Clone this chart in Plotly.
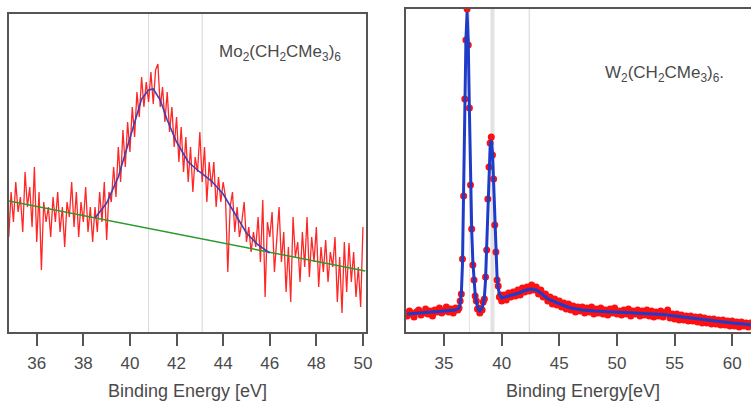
import numpy as np
import plotly.graph_objects as go

# ---------------- Left panel: Mo2(CH2CMe3)6 ----------------
mo_x_start, mo_x_step = 34.8, 0.1
mo_counts = [
    95, 140, 110, 150, 120, 135, 100, 160, 125, 145,
    105, 165, 90, 140, 62, 130, 110, 125, 95, 135,
    110, 140, 100, 125, 85, 130, 115, 150, 105, 140,
    95, 130, 110, 145, 100, 125, 90,
    125, 100, 140, 110, 150, 92, 140, 130, 165, 135,
    185, 150, 202, 165, 210, 180, 225, 195, 240, 215,
    255, 225, 250, 230, 260, 228, 262, 268, 225, 245,
    210, 240, 200, 225, 185, 215, 170, 205, 160, 195,
    150, 185, 140, 175, 160, 200, 150, 185, 130, 170,
    145, 170, 125, 155, 130, 150, 135, 60, 125, 140,
    100, 125, 95, 110, 130, 90, 105, 80, 100, 85,
    115, 70, 132, 35, 110, 95,
    120, 60, 95, 125, 70, 100, 40, 85, 30, 115,
    75, 90, 50, 100, 65, 115, 55, 95, 70, 105,
    45, 85, 60, 92, 50, 80, 65, 95, 30, 75,
    19, 90, 40, 89, 50, 80, 35, 65, 25, 105,
]
mo_x = np.round(mo_x_start + mo_x_step * np.arange(len(mo_counts)), 2)

mo_fit_x = [38.5, 39.0, 39.5, 40.0, 40.5, 40.8, 41.0, 41.3, 41.6, 42.0,
            42.5, 43.0, 43.5, 44.0, 44.5, 45.0, 45.5, 46.0]
mo_fit_y = [114, 129, 155, 193, 233, 242, 243, 232, 212, 190,
            170, 160, 151, 138, 118, 99, 87, 79]

mo_bg_x = [34.8, 50.1]
mo_bg_y = [131, 61]

mo_ref_lines = [40.8, 43.1]
mo_ticks = [36, 38, 40, 42, 44, 46, 48, 50]

# ---------------- Right panel: W2(CH2CMe3)6 ----------------
w_seg1 = [16, 21, 18, 15, 20, 22, 17, 19, 23, 18, 21, 16, 22, 20, 24, 19, 21, 25, 20, 23, 19, 24, 22]
w_seg2 = [24, 31, 38, 73, 136, 233, 292, 323, 287, 224,
          147, 103, 67, 52, 36, 31, 23, 24, 19, 23,
          22, 30, 33, 55, 82, 133, 165, 189, 195, 177,
          153, 107, 80, 52, 46, 35, 37, 31]
w_seg3 = [37, 32, 39, 35, 40, 36, 42, 37, 44, 40,
          45, 41, 47, 42, 45, 38, 42, 35, 38, 31,
          35, 28, 33, 27, 31, 25, 29, 23, 28, 22,
          26, 20, 25, 21, 25, 19, 24, 20, 25, 18,
          23, 19, 24, 18, 22, 17, 23, 19, 24, 18,
          21, 17, 22, 18, 23, 16, 21, 18, 22, 16,
          21, 17, 22, 16, 21, 15, 20, 16, 21, 15,
          19, 22, 14, 18, 13, 18, 12, 17, 12, 16,
          11, 16, 11, 15, 10, 15, 9, 14, 9, 13,
          8, 13, 8, 12, 7, 12, 7, 11, 6, 11,
          6, 10, 5, 10, 6, 9, 5, 9]
w_x = np.concatenate([
    np.round(np.linspace(31.8, 36.2, len(w_seg1)), 2),
    np.round(np.linspace(36.3, 40.0, len(w_seg2)), 2),
    np.round(np.linspace(40.2, 61.6, len(w_seg3)), 2),
])
w_counts = w_seg1 + w_seg2 + w_seg3

w_fit_x = [31.8, 32.5, 33, 34, 35, 36, 36.3, 36.4, 36.5, 36.6, 36.7, 36.8, 36.9, 37.0,
           37.1, 37.2, 37.3, 37.4, 37.5, 37.6, 37.7, 37.8, 37.9, 38.0,
           38.1, 38.2, 38.3, 38.4, 38.5, 38.6, 38.7, 38.8, 38.9, 39.0,
           39.1, 39.2, 39.3, 39.4, 39.5, 39.6, 39.7, 39.8,
           40.0, 40.5, 41, 41.5, 42, 42.5, 43, 43.5, 44, 44.5, 45, 45.5, 46, 46.5, 47,
           48, 49, 50, 51, 52, 53, 54, 55, 56, 57, 58, 59, 60, 61, 61.7]
w_fit_y = [18, 18.5, 19, 20, 21, 22, 24, 28, 38, 68, 138, 230, 293, 320,
           290, 222, 150, 102, 70, 50, 38, 30, 25, 22,
           21, 22, 24, 28, 35, 52, 85, 130, 168, 186,
           192, 180, 150, 110, 78, 55, 44, 38,
           34, 35.5, 37, 39, 41.5, 43, 42, 38, 33, 30.5, 28, 26, 24, 23, 22,
           21, 20.5, 20, 19.5, 19, 18.5, 17.5, 16, 14.5, 13, 11.5, 10, 9, 8, 7]

w_ref_lines = [37.2, 39.2, 42.4]
w_ref_widths = [1, 4, 1.5]
w_ticks = [35, 40, 45, 50, 55, 60]

FONT = "Liberation Sans, Arial, sans-serif"
TXT = "#4a4a4a"
AX = "#555555"

fig = go.Figure()

# left panel traces
fig.add_trace(go.Scatter(x=mo_x, y=mo_counts, mode="lines",
                         line=dict(color="rgba(255,0,0,0.85)", width=1.3),
                         xaxis="x", yaxis="y", showlegend=False, hoverinfo="skip"))
fig.add_trace(go.Scatter(x=mo_bg_x, y=mo_bg_y, mode="lines",
                         line=dict(color="#2a9a2a", width=1.5),
                         xaxis="x", yaxis="y", showlegend=False, hoverinfo="skip"))
fig.add_trace(go.Scatter(x=mo_fit_x, y=mo_fit_y, mode="lines",
                         line=dict(color="#4040b0", width=1.6),
                         xaxis="x", yaxis="y", showlegend=False, hoverinfo="skip"))

# right panel traces
fig.add_trace(go.Scatter(x=w_x, y=w_counts, mode="markers",
                         marker=dict(color="#ff1010", size=7),
                         xaxis="x2", yaxis="y2", showlegend=False, hoverinfo="skip"))
fig.add_trace(go.Scatter(x=w_fit_x, y=w_fit_y, mode="lines",
                         line=dict(color="#1f3cc8", width=3),
                         xaxis="x2", yaxis="y2", showlegend=False, hoverinfo="skip"))

shapes = []
for xv in mo_ref_lines:
    shapes.append(dict(type="line", xref="x", yref="y domain", x0=xv, x1=xv, y0=0, y1=1,
                       line=dict(color="#d8d8d8", width=1), layer="below"))
for xv, wv in zip(w_ref_lines, w_ref_widths):
    shapes.append(dict(type="line", xref="x2", yref="y2 domain", x0=xv, x1=xv, y0=0, y1=1,
                       line=dict(color="#e2e2e2", width=wv), layer="below"))

axis_common = dict(showgrid=False, zeroline=False, showline=True, linecolor=AX, linewidth=2,
                   ticks="outside", ticklen=12, tickwidth=2, tickcolor=AX,
                   tickfont=dict(family=FONT, size=17, color=TXT), automargin=False)

fig.update_layout(
    width=751, height=402,
    margin=dict(l=0, r=0, t=0, b=0),
    paper_bgcolor="white", plot_bgcolor="white",
    shapes=shapes,
    xaxis=dict(domain=[9 / 751, 366 / 751], range=[34.81, 50.13], tickvals=mo_ticks,
               mirror=True, anchor="y", ticklabelstandoff=3, **axis_common),
    yaxis=dict(domain=[70 / 402, 388 / 402], range=[0, 318], showgrid=False, zeroline=False,
               showline=True, linecolor=AX, linewidth=2, mirror=True, showticklabels=False,
               ticks="", anchor="x"),
    xaxis2=dict(domain=[406 / 751, 1.0], range=[31.7, 61.63], tickvals=w_ticks,
                mirror=True, anchor="y2", ticklabelstandoff=3, **axis_common),
    yaxis2=dict(domain=[70 / 402, 393 / 402], range=[0, 323], showgrid=False, zeroline=False,
                showline=True, linecolor=AX, linewidth=2, mirror=False, showticklabels=False,
                ticks="", anchor="x2"),
    annotations=[
        dict(text="Mo<sub>2</sub>(CH<sub>2</sub>CMe<sub>3</sub>)<sub>6</sub>", xref="paper", yref="paper",
             x=280 / 751, y=1 - 53 / 402, xanchor="center", yanchor="middle", showarrow=False,
             font=dict(family=FONT, size=17, color=TXT)),
        dict(text="W<sub>2</sub>(CH<sub>2</sub>CMe<sub>3</sub>)<sub>6</sub>.", xref="paper", yref="paper",
             x=664 / 751, y=1 - 74 / 402, xanchor="center", yanchor="middle", showarrow=False,
             font=dict(family=FONT, size=17, color=TXT)),
        dict(text="Binding Energy [eV]", xref="paper", yref="paper",
             x=187 / 751, y=1 - 391 / 402, xanchor="center", yanchor="middle", showarrow=False,
             font=dict(family=FONT, size=18, color=TXT)),
        dict(text="Binding Energy[eV]", xref="paper", yref="paper",
             x=583 / 751, y=1 - 391 / 402, xanchor="center", yanchor="middle", showarrow=False,
             font=dict(family=FONT, size=18, color=TXT)),
    ],
)

fig.write_html("out.html", config={"displayModeBar": False},
               post_script="document.body.style.margin='0px';document.body.style.padding='0px';document.body.style.overflow='hidden';")
